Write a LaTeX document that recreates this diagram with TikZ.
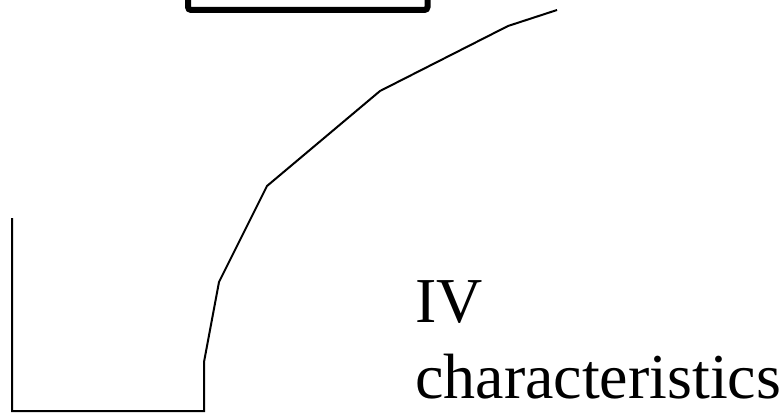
\documentclass[tikz,border=0pt]{standalone}
\usepackage{fontspec}
\setmainfont{Liberation Serif}
\begin{document}
\begin{tikzpicture}[x=1pt,y=-1pt,
  curve/.style={line width=2pt,line join=miter},
  lbl/.style={inner sep=0pt,anchor=base west,font=\fontsize{64}{76}\selectfont}]
\useasboundingbox (0,0) rectangle (783,412);
\clip (0,0) rectangle (783,412);
\draw[line width=6pt,rounded corners=3pt] (188,-20) rectangle (427.5,10);
\draw[curve] (12,218) -- (12,411) -- (204,411) -- (204,362) -- (219,282)
  -- (267,186) -- (380,91) -- (508,26) -- (557,10);
\node[lbl] (iv) at (415,322) {IV};
\node[lbl] (ch) at (415,398) {characteristics};
\end{tikzpicture}
\end{document}
